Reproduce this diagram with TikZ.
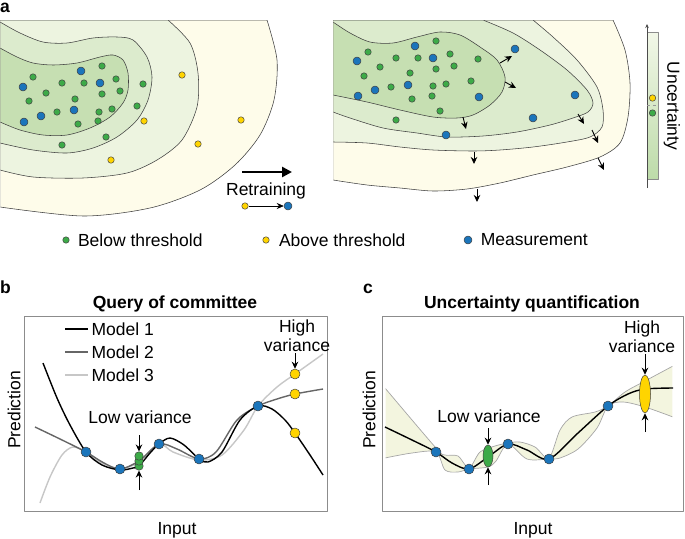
\documentclass[tikz,border=0pt]{standalone}
\usepackage{fontspec}
\setmainfont{Liberation Sans}
\usetikzlibrary{arrows.meta,shapes.geometric,positioning}

\definecolor{ringA}{HTML}{C6DFB2}
\definecolor{ringB}{HTML}{DCEBCD}
\definecolor{ringC}{HTML}{EDF4E0}
\definecolor{ringD}{HTML}{FEFCEA}
\definecolor{dotG}{HTML}{3DAA48}
\definecolor{dotB}{HTML}{1B75BB}
\definecolor{dotY}{HTML}{FFD400}
\definecolor{barTop}{HTML}{F2F7E8}
\definecolor{barBot}{HTML}{BDDBA9}
\definecolor{band}{HTML}{F3F5DF}

\tikzset{
  gdot/.style={circle,draw=black!75,fill=dotG,inner sep=0pt,minimum size=6.5pt,line width=0.5pt},
  bdot/.style={gdot,fill=dotB,minimum size=8pt},
  ydot/.style={gdot,fill=dotY},
  big/.style={minimum size=10pt},
  cont/.style={draw=black!75,line width=0.55pt},
  push/.style={-{Stealth[length=7pt,width=6.5pt,inset=2.2pt]},line width=0.9pt},
  frame/.style={draw=black!45,line width=0.8pt},
  mod1/.style={line width=1.4pt,black},
  mod2/.style={line width=1.4pt,black!60},
  mod3/.style={line width=1.4pt,black!22},
  ttl/.style={anchor=base,font=\fontsize{17.5}{19}\selectfont\bfseries},
  panel/.style={ttl,anchor=base west,inner sep=0pt}
}

\begin{document}
\begin{tikzpicture}[x=1pt,y=-1pt,font=\fontsize{17.5}{19}\selectfont,line join=round]
\useasboundingbox (0,0) rectangle (685,538);

% a: before retraining
\node[panel] (la) at (0,12.5) {a};
\begin{scope}
  \clip (0.4,20.4) rectangle (300,230);
  \filldraw[cont,fill=ringD] (0,20) -- plot[smooth] coordinates {(267,20) (277,60) (274,100) (260,135) (235,165) (200,190) (150,208) (83,216) (0,207)} -- cycle;
  \filldraw[cont,fill=ringC] (0,20) -- plot[smooth] coordinates {(168,20) (190,43) (198,73) (197,107) (182,140) (157,160) (127,173) (83,178) (33,177) (0,170)} -- cycle;
  \filldraw[cont,fill=ringB] plot[smooth] coordinates {(0,22) (20,33) (43,42) (67,43) (93,38) (117,37) (133,40) (147,57) (152,77) (148,100) (137,120) (117,137) (93,148) (67,153) (33,150) (0,143)} -- cycle;
  \filldraw[cont,fill=ringA] plot[smooth] coordinates {(0,48) (17,57) (33,63) (53,65) (77,63) (100,57) (113,55) (123,60) (128,73) (128,90) (123,103) (110,117) (90,128) (67,135) (43,135) (20,130) (0,122)} -- cycle;
\end{scope}
\foreach \x/\y [count=\i] in {33/77,62/83,84/83,102/66,116/79,120/91,102/94,46/93,29/101,75/99,57/112,99/112,112/109,78/124,98/121,143/84,137/106,106/137,62/145}
  \node[gdot] (lg\i) at (\x,\y) {};
\foreach \x/\y [count=\i] in {81/71,100/83,23/87,41/116,24/122,74/110}
  \node[bdot] (lb\i) at (\x,\y) {};
\foreach \x/\y [count=\i] in {182/75,144/121,241/120,198/144,111/160}
  \node[ydot] (ly\i) at (\x,\y) {};

% retraining
\coordinate (r0) at (242,172);
\coordinate (r1) at (292,172);
\draw[line width=2.6pt,-{Triangle[length=10pt,width=10pt]}] (r0) -- (r1);
\node[anchor=base] (rt) at (266,195) {Retraining};
\node[ydot] (ry) at (245,206) {};
\node[bdot] (rb) at (288,206) {};
\draw[line width=0.6pt,-{Stealth[length=7pt,width=6pt]}] (ry) -- (rb);

% a: after retraining
\begin{scope}
  \clip (333.4,20.4) rectangle (640,215);
  \filldraw[cont,fill=ringD] (333,20) -- plot[smooth] coordinates {(613,20) (625,50) (630,83) (628,117) (620,143) (600,157) (567,167) (533,175) (500,183) (467,189) (433,191) (400,188) (367,185) (333,180)} -- cycle;
  \filldraw[cont,fill=ringC] (333,20) -- plot[smooth] coordinates {(533,20) (553,37) (577,60) (597,87) (603,110) (602,127) (590,137) (567,142) (533,147) (500,150) (473,151) (433,150) (400,147) (367,143) (333,142)} -- cycle;
  \filldraw[cont,fill=ringB] (333,20) -- plot[smooth] coordinates {(483,20) (513,33) (540,50) (567,70) (587,90) (593,103) (588,112) (573,118) (550,125) (517,132) (483,136) (447,137) (417,133) (383,128) (350,118) (333,112)} -- cycle;
  \filldraw[cont,fill=ringA] plot[smooth] coordinates {(333,22) (350,33) (370,42) (393,43) (417,37) (440,32) (460,35) (480,47) (497,60) (505,77) (502,92) (490,105) (473,115) (457,118) (433,117) (400,110) (367,102) (333,95)} -- cycle;
\end{scope}
\foreach \x/\y [count=\i] in {436/41,368/52,396/58,418/58,450/54,478/59,380/67,436/69,454/66,364/76,410/73,471/81,391/87,433/86,446/84,412/99,432/96,440/111,396/120}
  \node[gdot] (rg\i) at (\x,\y) {};
\foreach \x/\y [count=\i] in {415/46,357/61,433/58,515/49,358/96,375/90,408/85,479/97,575/95,533/118,446/135}
  \node[bdot] (rbd\i) at (\x,\y) {};
\foreach \xa/\ya/\xb/\yb in {500/63/512/56,505/82/516/88,463/117/466/129,578/114/584/124,592/130/598/143,474/152/474/164,598/158/604/170,477/189/477/202}
  \draw[push] (\xa,\ya) -- (\xb,\yb);

% uncertainty bar
\shade[top color=barTop,bottom color=barBot] (647,32) rectangle (658,179);
\draw[black!45,line width=0.6pt] (647,32) rectangle (658,179);
\draw[black!70,line width=0.6pt,-{Stealth[length=4pt,width=3.5pt]}] (647,188) -- (647,24);
\draw[black!40,dashed,line width=0.5pt] (647,105) -- (658,105);
\node[ydot] (cy) at (652.5,98) {};
\node[gdot] (cg) at (652.5,113) {};
\node[rotate=-90] (unc) at (672,106) {Uncertainty};

% key
\node[gdot] (kg) at (66,240) {};
\node[right=5pt of kg] (kgt) {Below threshold};
\node[ydot] (ky) at (266,240) {};
\node[right=6pt of ky] (kyt) {Above threshold};
\node[bdot] (kb) at (468,240) {};
\node[right=5pt of kb] (kbt) {Measurement};

% b
\node[panel] (lbb) at (0,293) {b};
\node[ttl] (tb) at (175,308) {Query of committee};
\draw[frame] (24,316) rectangle (327,511);
\node[rotate=90] (yb) at (14,410) {Prediction};
\node[anchor=base] (xb) at (177,534) {Input};
\foreach \s/\y/\t in {mod1/329/Model 1,mod2/352/Model 2,mod3/375/Model 3} {
  \draw[\s] (65,\y) -- (88,\y) coordinate (k\y);
  \node[right=0pt of k\y] {\t};
}
\draw[mod3] plot[smooth] coordinates {(40,503) (50,477) (62,455) (73,447) (86,452) (100,462) (120,469) (139,462) (159,444) (173,452) (199,460) (222,455) (244,430) (258,406) (277,387) (295,374) (323,354)};
\draw[mod2] plot[smooth] coordinates {(35,427) (60,439) (86,452) (104,463) (120,469) (139,461) (159,444) (177,449) (199,459) (216,452) (237,420) (258,406) (277,399) (295,394) (323,389)};
\draw[mod1] plot[smooth] coordinates {(43,363) (57,398) (70,425) (86,452) (102,465) (120,470) (133,468) (139,466) (150,453) (159,444) (170,438) (184,445) (199,459) (208,462) (222,452) (240,420) (258,406) (272,409) (285,420) (295,433) (310,455) (323,475)};
\foreach \x/\y [count=\i] in {86/452,120/469,159/444,199/459,258/406}
  \node[bdot,big] (pb\i) at (\x,\y) {};
\foreach \y [count=\i] in {466,461,456}
  \node[gdot,minimum size=8.5pt] (gb\i) at (139,\y) {};
\foreach \y [count=\i] in {374,394,433}
  \node[ydot,big] (yb\i) at (295,\y) {};
\node[anchor=base] (lvb) at (140,423) {Low variance};
\draw[push] (139,435) -- (gb3.north);
\draw[push] (139,490) -- (gb1.south);
\node[align=center] (hvb) at (297,336) {High\\variance};
\draw[push] (295,353) -- (yb1.north);

% c
\node[panel] (lc) at (363,293) {c};
\node[ttl] (tc) at (532,308) {Uncertainty quantification};
\draw[frame] (382,316) rectangle (683,511);
\node[rotate=90] (yc) at (369,410) {Prediction};
\node[anchor=base] (xc) at (533,534) {Input};
\begin{scope}
  \clip (385.6,316) rectangle (672.4,511);
  \filldraw[fill=band,draw=black!35,line width=0.7pt] plot[smooth] coordinates {(385,388) (436,448) (445,455) (458,456) (469,468) (480,452) (495,446) (508,443) (520,442) (535,447) (549,458) (560,430) (572,417) (595,412) (608,406) (625,392) (645,381) (673,366)} -- plot[smooth] coordinates {(673,417) (645,407) (623,402) (608,406) (597,428) (578,449) (560,458) (549,459) (527,459) (508,444) (496,461) (488,467) (469,469) (458,472) (445,470) (436,452) (412,453) (385,458)} -- cycle;
\end{scope}
\draw[mod1] plot[smooth] coordinates {(385,427) (412,440) (436,452) (452,463) (469,469) (488,457) (508,444) (527,450) (549,459) (578,433) (608,406) (628,394) (645,389) (673,388)};
\foreach \x/\y [count=\i] in {436/452,469/469,508/444,549/459,608/406}
  \node[bdot,big] (pc\i) at (\x,\y) {};
\node[ellipse,draw=black!75,line width=0.5pt,fill=dotG,inner sep=0pt,minimum width=10pt,minimum height=22pt] (gc) at (488,456) {};
\node[ellipse,draw=black!75,line width=0.5pt,fill=dotY,inner sep=0pt,minimum width=11pt,minimum height=38pt] (ycl) at (645,394) {};
\node[anchor=base] (lvc) at (489,422) {Low variance};
\draw[push] (488,428) -- (gc.north);
\draw[push] (488,485) -- (gc.south);
\node[align=center] (hvc) at (642,337) {High\\variance};
\draw[push] (645,354) -- (ycl.north);
\draw[push] (645,432) -- (ycl.south);
\end{tikzpicture}
\end{document}
